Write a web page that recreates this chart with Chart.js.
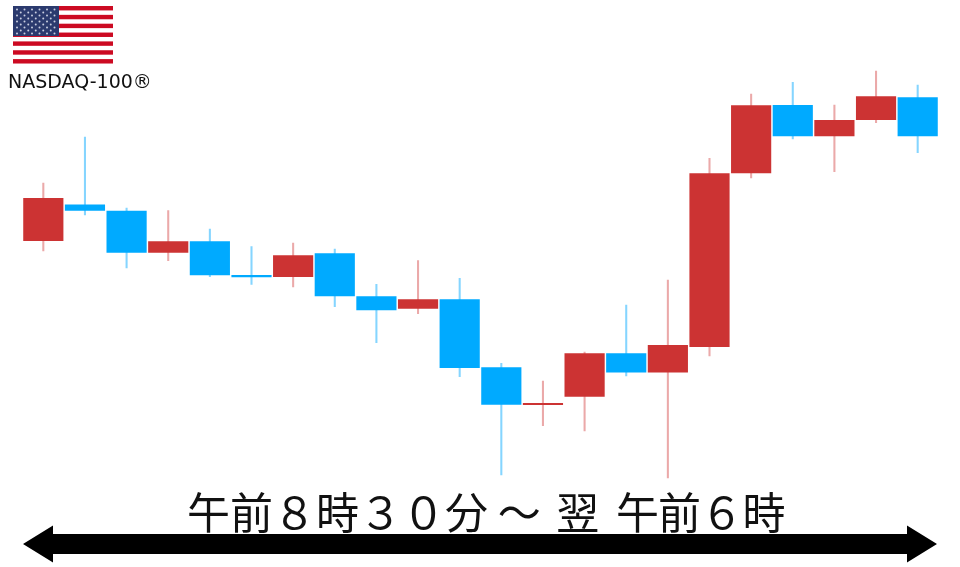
<!DOCTYPE html>
<html lang="ja">
<head>
<meta charset="utf-8">
<title>NASDAQ-100</title>
<script src="https://cdn.jsdelivr.net/npm/chart.js@4"></script>
<style>
  html, body { margin: 0; padding: 0; background: #fff; }
  #wrap { position: relative; width: 960px; height: 567px; overflow: hidden; }
  #chart { position: absolute; left: 0; top: 0; }
  #flag, #arrow { position: absolute; left: 0; top: 0; }
  .label { position: absolute; white-space: pre; color: #111; line-height: 1; }
  #name { left: 8px; top: 70px; font: 19px "DejaVu Sans", sans-serif; }
  #span { left: 187px; top: 489px; font: 43px "Noto Sans CJK JP", sans-serif; line-height: 1; }
  #next { margin-left: 6px; }
  #end { margin-left: 7px; letter-spacing: -0.8px; }
</style>
</head>
<body>
<div id="wrap">
  <canvas id="chart" width="960" height="567"></canvas>
  <svg id="flag" width="130" height="70" viewBox="0 0 130 70"></svg>
  <svg id="arrow" width="960" height="567" viewBox="0 0 960 567">
    <polygon fill="#000" points="23,544 53,525.5 53,534 907,534 907,525.5 937,544 907,562.5 907,554 53,554 53,562.5"></polygon>
  </svg>
  <div class="label" id="name">NASDAQ-100®</div>
  <div class="label" id="span">午前８時３０分 ～ <span id="next">翌</span> <span id="end">午前６時</span></div>
</div>
<script>
  /* Price path (arbitrary units, the original has no axis) */
  const CANDLES = ['1','2','3','4','5','6','7','8','9','10','11','12','13','14','15','16','17','18','19','20','21','22'];
  const OPEN  = [326, 362.5, 356.3, 314.3, 325.7, 292, 290, 313.7, 270.7, 258.3, 267.7, 199.7, 162, 170.3, 213.7, 194.5, 220, 393.7, 462, 430.7, 447, 469.7];
  const CLOSE = [369, 356.3, 314.3, 325.7, 291.7, 289.7, 311.7, 270.7, 256.7, 267.7, 199, 162.3, 164, 213.7, 194.5, 222, 393.7, 461.7, 430.7, 447, 470.7, 430.7];
  const HIGH  = [384, 430, 359, 356.3, 338, 320.3, 324, 318, 282.7, 306.3, 288.7, 203.7, 186, 215, 262, 287, 408.7, 473, 484.7, 462, 496, 482];
  const LOW   = [316, 352, 299, 306.3, 290.3, 282.7, 280, 260.3, 224.3, 253.3, 190.3, 92, 141.3, 136, 191, 89, 211, 389, 428, 395.3, 444.3, 414.3];

  /* Colours: red closes higher, blue closes lower */
  const COLOURS = {
    up: '#CC3333',
    down: '#00AAFF',
    upWick: '#EBA9A9',
    downWick: '#85D5FF'
  };

  function isUp(i) { return CLOSE[i] >= OPEN[i]; }

  new Chart(document.getElementById('chart'), {
    type: 'bar',
    data: {
      labels: CANDLES,
      datasets: [
        {
          /* wicks sit behind the bodies */
          data: CANDLES.map(function(c, i) { return [LOW[i], HIGH[i]]; }),
          backgroundColor: CANDLES.map(function(c, i) { return isUp(i) ? COLOURS.upWick : COLOURS.downWick; }),
          barThickness: 1.4,
          grouped: false,
          order: 2
        },
        {
          data: CANDLES.map(function(c, i) { return [OPEN[i], CLOSE[i]]; }),
          backgroundColor: CANDLES.map(function(c, i) { return isUp(i) ? COLOURS.up : COLOURS.down; }),
          barPercentage: 0.965,
          categoryPercentage: 1,
          grouped: false,
          order: 1
        }
      ]
    },
    options: {
      responsive: false,
      animation: false,
      layout: { padding: { left: 22.5, right: 21.5, top: 0, bottom: 0 } },
      plugins: { legend: { display: false }, tooltip: { enabled: false } },
      scales: {
        x: { display: false },
        y: { display: false, min: 0, max: 567 }
      }
    }
  });

  /* Flag top left */
  var flag = document.getElementById('flag');
  var svg = '<rect x="13" y="6" width="100" height="57.5" fill="#fff"/>';
  for (var s = 0; s < 7; s++) {
    svg += '<rect x="13" y="' + (6 + s * 8.85) + '" width="100" height="4.42" fill="#CC0A22"/>';
  }
  svg += '<rect x="13" y="6" width="46" height="30" fill="#2B3A6E"/>';
  for (var row = 0; row < 9; row++) {
    var n = row % 2 ? 5 : 6;
    for (var col = 0; col < n; col++) {
      svg += '<circle cx="' + (17 + col * 7.5 + (row % 2 ? 3.75 : 0)) + '" cy="' + (9.5 + row * 3) + '" r="1" fill="#C9CEE0"/>';
    }
  }
  flag.innerHTML = svg;
</script>
</body>
</html>
